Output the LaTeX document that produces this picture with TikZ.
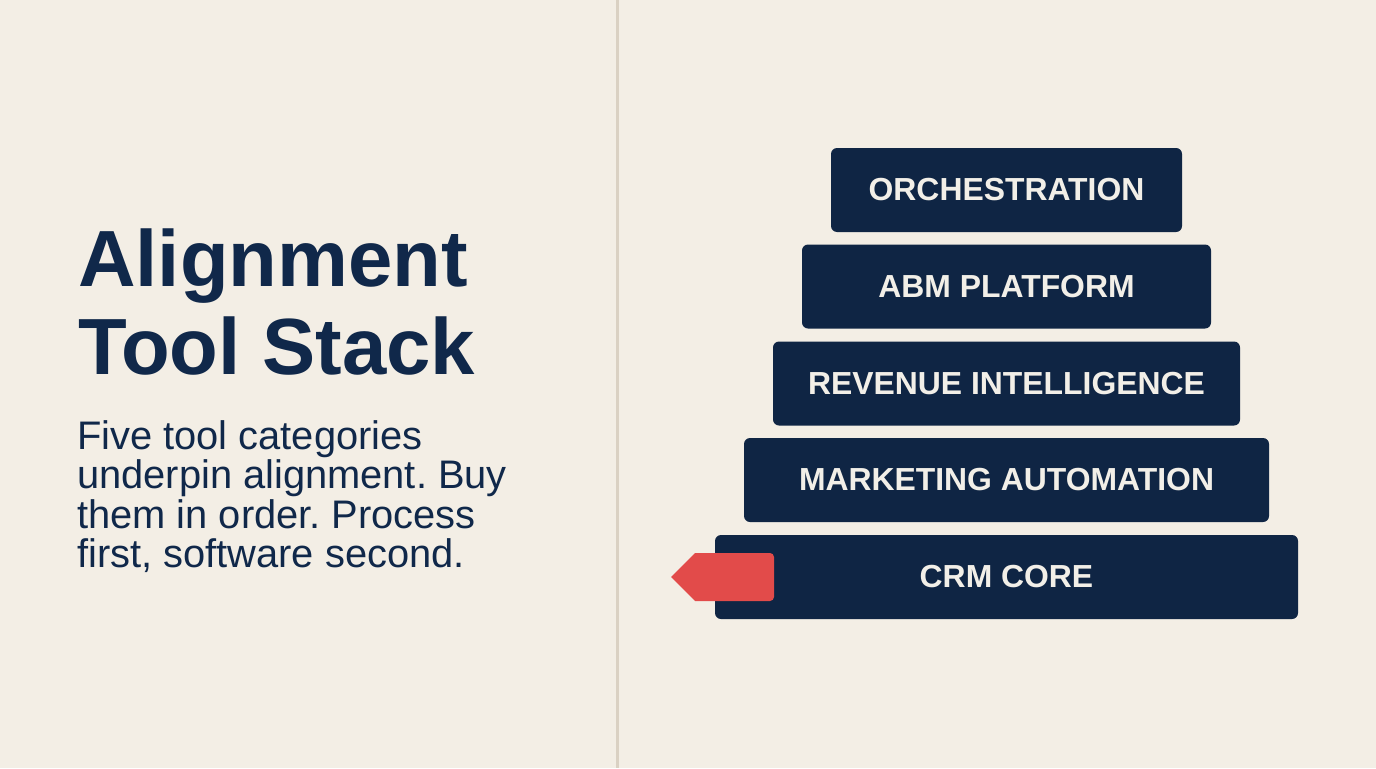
\documentclass[tikz,border=0pt]{standalone}
\usepackage{fontspec}
\setmainfont{Liberation Sans}
\frenchspacing
\definecolor{bg}{HTML}{F3EEE5}
\definecolor{navy}{HTML}{0F2544}
\definecolor{ink}{HTML}{10284A}
\definecolor{cream}{HTML}{F2EFE8}
\definecolor{divider}{HTML}{DAD1C3}
\definecolor{tagred}{HTML}{E24B4A}
\begin{document}
\begin{tikzpicture}[x=1bp,y=-1bp,
  tier/.style={fill=navy, rounded corners=6bp, minimum height=84bp, inner sep=0pt,
    text=cream, font=\fontsize{32}{36}\selectfont\bfseries},
  title/.style={anchor=base west, inner sep=0pt, text=ink, font=\fontsize{80}{88}\selectfont\bfseries},
  body/.style={anchor=base west, inner sep=0pt, text=ink, font=\fontsize{40}{40}\selectfont\frenchspacing}]
\useasboundingbox (0,0) rectangle (1376,768);
\fill[bg] (0,0) rectangle (1376,768);
\draw[divider, line width=3bp] (617,0) -- (617,768);

\node[title] (t1) at (78,286) {Alignment};
\node[title] (t2) at (78,374) {Tool Stack};

\node[body] (b1) at (77,449) {Five tool categories};
\node[body] (b2) at (77,488.5) {underpin alignment. Buy};
\node[body] (b3) at (77,528) {them in order. Process};
\node[body] (b4) at (77,567.5) {first, software second.};

\node[tier, minimum width=351bp] (orch) at (1006.5,190) {ORCHESTRATION};
\node[tier, minimum width=409bp] (abm) at (1006.5,286.5) {ABM PLATFORM};
\node[tier, minimum width=467bp] (rev) at (1006.5,383.5) {REVENUE INTELLIGENCE};
\node[tier, minimum width=525bp] (mkt) at (1006.5,480) {MARKETING AUTOMATION};
\node[tier, minimum width=583bp] (crm) at (1006.5,577) {CRM CORE};

\fill[tagred] (695,553) [rounded corners=4bp] -- (774,553) -- (774,601) [sharp corners] -- (695,601) -- (671,577) -- cycle;
\end{tikzpicture}
\end{document}
